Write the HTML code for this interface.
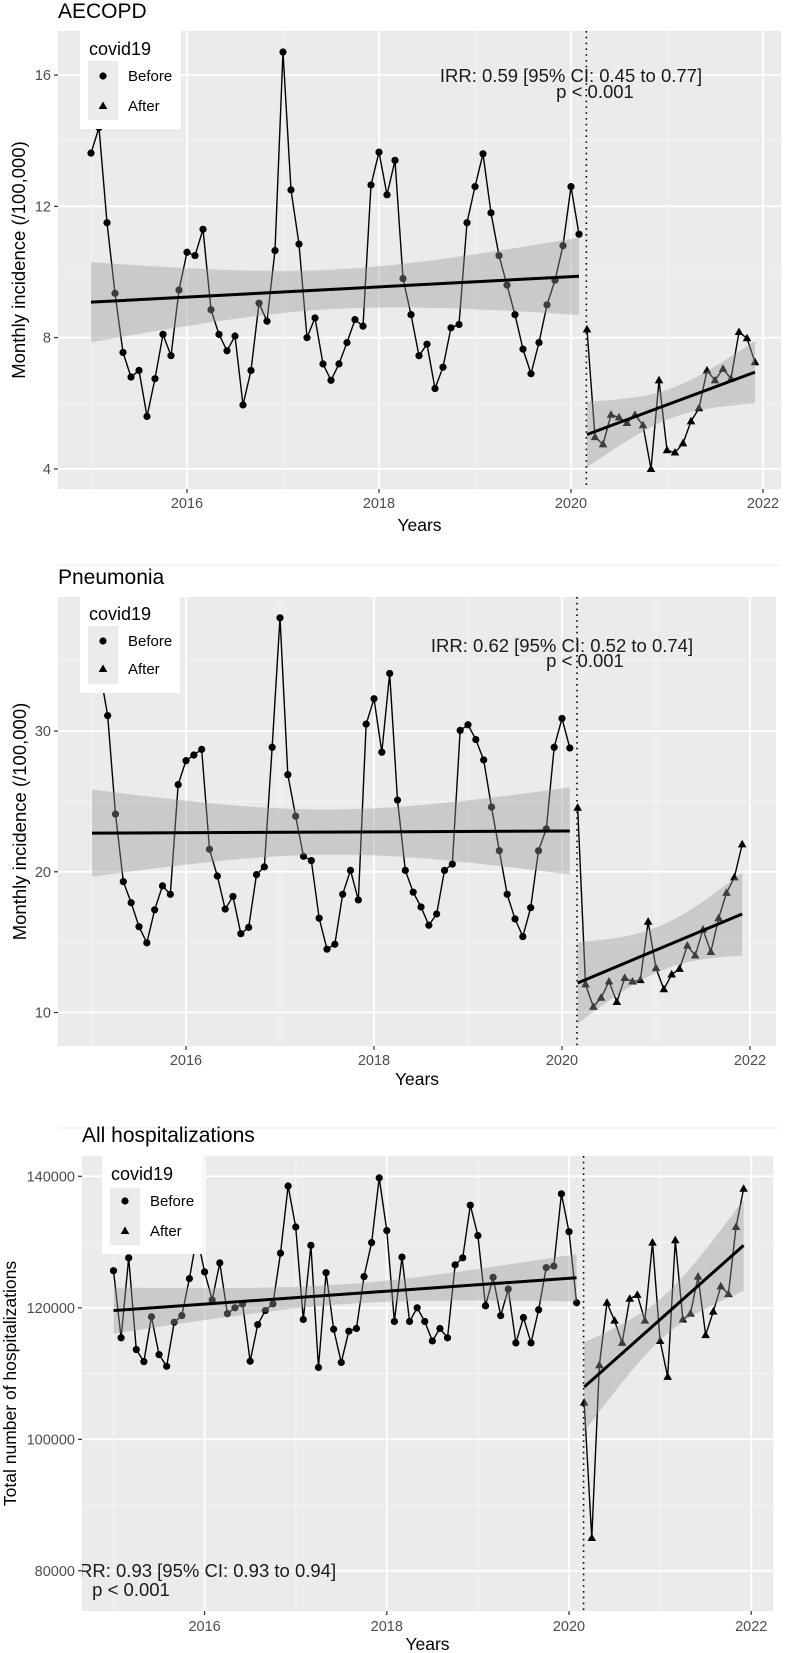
<!DOCTYPE html>
<html><head><meta charset="utf-8">
<style>
html,body{margin:0;padding:0;background:#fff;}
svg{display:block;font-family:"Liberation Sans",Arial,sans-serif;}
</style></head>
<body>
<svg id="chart" width="790" height="1653" viewBox="0 0 790 1653" xmlns="http://www.w3.org/2000/svg"></svg>
<script>
// ---- Data (monthly, Jan 2015 .. Feb 2020 before; Mar 2020 .. Dec 2021 after) ----
const aecopdBefore = [13.62,14.4,11.5,9.35,7.55,6.8,7.0,5.6,6.75,8.1,7.45,9.45,
 10.6,10.5,11.3,8.85,8.1,7.6,8.05,5.95,7.0,9.05,8.5,10.65,
 16.7,12.5,10.85,8.0,8.6,7.2,6.7,7.2,7.85,8.55,8.35,12.65,
 13.65,12.35,13.4,9.8,8.7,7.45,7.8,6.45,7.1,8.3,8.4,11.5,
 12.6,13.6,11.8,10.5,9.6,8.7,7.65,6.9,7.85,9.0,9.75,10.8,
 12.6,11.15];
const aecopdAfter = [8.25,4.97,4.75,5.65,5.57,5.4,5.65,5.33,4.0,6.7,
 4.57,4.5,4.78,5.45,5.85,7.0,6.7,7.05,6.75,8.17,7.98,7.25];
const aecopdTrendBefore = [9.08, 9.87];
const aecopdTrendAfter = [5.05, 6.95];
const aecopdCiBefore = [1.22, 0.6, 1.18];
const aecopdCiAfter = [1.0, 0.45, 0.95];

const pneuBefore = [36,34.3,31.1,24.1,19.3,17.8,16.1,14.95,17.3,19.0,18.4,26.2,
 27.9,28.3,28.7,21.6,19.7,17.35,18.25,15.6,16.05,19.8,20.35,28.85,
 38.05,26.9,23.95,21.1,20.8,16.7,14.5,14.85,18.4,20.1,18.0,30.5,
 32.3,28.5,34.1,25.1,20.1,18.55,17.5,16.2,17.0,20.1,20.55,30.05,
 30.45,29.4,27.95,24.6,21.5,18.4,16.65,15.4,17.45,21.5,23.05,28.85,
 30.9,28.8];
const pneuAfter = [24.55,12.0,10.4,11.05,12.2,10.75,12.45,12.2,12.3,16.45,
 13.15,11.65,12.7,13.1,14.75,14.05,15.9,14.3,16.7,18.5,19.6,21.95];
const pneuTrendBefore = [22.75, 22.9];
const pneuTrendAfter = [12.1, 17.0];
const pneuCiBefore = [3.1, 1.6, 3.1];
const pneuCiAfter = [2.9, 1.6, 2.95];

const hospBefore = [125640,115430,127600,113650,111810,118640,112880,111100,117800,118810,124450,131000,
 125460,121190,126830,119110,120000,120590,111870,117450,119580,120590,128310,138520,
 132290,118220,129500,110920,125340,116740,111690,116440,116850,124750,129910,139760,
 131750,117920,127720,117920,120000,117920,114960,116850,115430,126530,127600,135610,
 130980,120300,124630,118810,122850,114660,118520,114660,119700,126110,126350,137330,
 131570,120770];
const hospAfter = [105580,84980,111270,120770,118040,114660,121370,121960,118040,129910,
 114960,109500,130270,118220,119110,124750,115850,119410,123260,122080,132290,138100];
const hospTrendBefore = [119580, 124570];
const hospTrendAfter = [107950, 129500];
const hospCiBefore = [3500, 1500, 3600];
const hospCiAfter = [6800, 3100, 6950];

const xTickYears = [2016, 2018, 2020, 2022];
const xMinorYears = [2015, 2017, 2019, 2021];
const aecopdYTicks = [4, 8, 12, 16];
const aecopdYMinor = [6, 10, 14];
const pneuYTicks = [10, 20, 30];
const pneuYMinor = [15, 25, 35];
const hospYTicks = [80000, 100000, 120000, 140000];
const hospYMinor = [90000, 110000, 130000];
const interruptionTime = 2020.16;

// ---- Drawing ----
const NS = "http://www.w3.org/2000/svg";
const svg = document.getElementById('chart');
function mk(tag, attrs, parent) {
  const e = document.createElementNS(NS, tag);
  for (const k in attrs) e.setAttribute(k, attrs[k]);
  (parent || svg).appendChild(e);
  return e;
}
function txt(str, attrs, parent) { const t = mk('text', attrs, parent); t.textContent = str; return t; }

function drawPanel(cfg) {
  const g = mk('g', {});
  
  
  const X = t => cfg.x0 + (t - 2015) * cfg.ppy;
  const Y = v => cfg.yRef + (cfg.vRef - v) * cfg.ppu;
  const tOf = i => 2015 + i / 12;

  // title
  const title = txt(cfg.title, {x: cfg.left, y: cfg.titleY, 'font-size': cfg.titleSize, fill: '#000'}, g);
  
  

  // background
  const bg = mk('rect', {x: cfg.left, y: cfg.top, width: cfg.right - cfg.left, height: cfg.bottom - cfg.top, fill: '#EBEBEB'}, g);
  
  

  // minor grid
  cfg.yMinor.forEach(v => { const y = Y(v); if (y > cfg.top && y < cfg.bottom) mk('line', {x1: cfg.left, x2: cfg.right, y1: y, y2: y, stroke: '#F5F5F5', 'stroke-width': 1}, g); });
  xMinorYears.forEach(t => mk('line', {x1: X(t), x2: X(t), y1: cfg.top, y2: cfg.bottom, stroke: '#F5F5F5', 'stroke-width': 1}, g));
  // major grid
  cfg.yTicks.forEach(v => mk('line', {x1: cfg.left, x2: cfg.right, y1: Y(v), y2: Y(v), stroke: '#fff', 'stroke-width': 1.8}, g));
  xTickYears.forEach(t => mk('line', {x1: X(t), x2: X(t), y1: cfg.top, y2: cfg.bottom, stroke: '#fff', 'stroke-width': 1.8}, g));

  // y ticks & labels
  cfg.yTicks.forEach(v => {
    mk('line', {x1: cfg.left - 4, x2: cfg.left, y1: Y(v), y2: Y(v), stroke: '#333', 'stroke-width': 1.2}, g);
    const l = txt(String(v), {x: cfg.left - 7, y: Y(v) + 5, 'text-anchor': 'end', 'font-size': 14.5, fill: '#4D4D4D'}, g);
    
    
  });
  // x ticks & labels
  xTickYears.forEach(t => {
    mk('line', {x1: X(t), x2: X(t), y1: cfg.bottom, y2: cfg.bottom + 4, stroke: '#333', 'stroke-width': 1.2}, g);
    const l = txt(String(t), {x: X(t), y: cfg.xLabelY, 'text-anchor': 'middle', 'font-size': 14.5, fill: '#4D4D4D'}, g);
    
    
  });
  const xt = txt('Years', {x: (cfg.left + cfg.right) / 2, y: cfg.xTitleY, 'text-anchor': 'middle', 'font-size': 17.5, fill: '#000'}, g);
  
  
  const cy = (cfg.top + cfg.bottom) / 2;
  const yt = txt(cfg.yTitle, {x: cfg.yTitleX, y: cy, 'text-anchor': 'middle', 'dominant-baseline': 'central', 'font-size': cfg.yTitleSize, fill: '#000', transform: 'rotate(-90 ' + cfg.yTitleX + ' ' + cy + ')'}, g);
  
  

  // series
  function series(vals, offset, shape, nm) {
    const pts = vals.map((v, i) => [X(tOf(i + offset)), Y(v)]);
    const pl = mk('polyline', {points: pts.map(p => p.join(',')).join(' '), fill: 'none', stroke: '#000', 'stroke-width': 1.4}, g);
    
    
    pts.forEach(p => {
      let m;
      if (shape === 'circle') m = mk('circle', {cx: p[0], cy: p[1], r: 3.6, fill: '#000'}, g);
      else m = mk('polygon', {points: [[p[0], p[1] - 4.6], [p[0] - 4.3, p[1] + 3], [p[0] + 4.3, p[1] + 3]].map(q => q.join(',')).join(' '), fill: '#000'}, g);
      
      
    });
  }
  series(cfg.before, 0, 'circle', 'before');
  series(cfg.after, cfg.before.length, 'triangle', 'after');

  // fit bands + lines
  function fit(tr, ci, i0, i1, nm) {
    const t0 = tOf(i0), t1 = tOf(i1), tc = (t0 + t1) / 2, hs = (t1 - t0) / 2;
    const up = [], lo = [];
    for (let k = 0; k <= 40; k++) {
      const t = t0 + (t1 - t0) * k / 40;
      const u = (t - tc) / hs;
      const e = u < 0 ? ci[0] : ci[2];
      const hw = Math.sqrt(ci[1] * ci[1] + (e * e - ci[1] * ci[1]) * u * u);
      const c = tr[0] + (tr[1] - tr[0]) * k / 40;
      up.push([X(t), Y(c + hw)]);
      lo.push([X(t), Y(c - hw)]);
    }
    const poly = up.concat(lo.reverse());
    const band = mk('polygon', {points: poly.map(p => p.join(',')).join(' '), fill: '#999999', 'fill-opacity': 0.4}, g);
    
    
    const ln = mk('line', {x1: X(t0), y1: Y(tr[0]), x2: X(t1), y2: Y(tr[1]), stroke: '#000', 'stroke-width': 3}, g);
    
    
  }
  const nb = cfg.before.length, na = cfg.after.length;
  fit(cfg.trendBefore, cfg.ciBefore, 0, nb - 1, 'before');
  fit(cfg.trendAfter, cfg.ciAfter, nb, nb + na - 1, 'after');

  // interruption line
  const dl = mk('line', {x1: X(interruptionTime), x2: X(interruptionTime), y1: cfg.top, y2: cfg.bottom, stroke: '#000', 'stroke-width': 1.6, 'stroke-dasharray': '1.6,4.2'}, g);
  
  

  // annotation (clipped to panel)
  const cid = 'clip-' + cfg.name;
  const cp = mk('clipPath', {id: cid}, g);
  mk('rect', {x: cfg.left, y: cfg.top, width: cfg.right - cfg.left, height: cfg.bottom - cfg.top}, cp);
  const ag = mk('g', {'clip-path': 'url(#' + cid + ')'}, g);
  const a1 = txt(cfg.irr, {x: cfg.irrX, y: cfg.irrY, 'text-anchor': 'middle', 'font-size': 18.5, fill: '#1a1a1a'}, ag);
  
  
  const a2 = txt('p < 0.001', {x: cfg.pX, y: cfg.pY, 'text-anchor': 'middle', 'font-size': 18.5, fill: '#1a1a1a'}, ag);
  
  

  // legend
  const L = cfg.legend;
  const lg = mk('g', {}, g);
  
  
  mk('rect', {x: L.x, y: L.y, width: L.w, height: L.h, fill: '#fff'}, lg);
  txt('covid19', {x: L.x + 9, y: L.titleY, 'font-size': 18, fill: '#000'}, lg);
  mk('rect', {x: L.x + 8, y: L.keyTop, width: 30, height: L.keyBottom - L.keyTop, fill: '#EBEBEB'}, lg);
  const kx = L.x + 23;
  const c = mk('circle', {cx: kx, cy: L.sym1, r: 3.6, fill: '#000'}, lg);
  
  
  const tr = mk('polygon', {points: [[kx, L.sym2 - 4.6], [kx - 4.3, L.sym2 + 3], [kx + 4.3, L.sym2 + 3]].map(q => q.join(',')).join(' '), fill: '#000'}, lg);
  
  
  const lb1 = txt('Before', {x: L.x + 48, y: L.sym1 + 5, 'font-size': 15, fill: '#000'}, lg);
  
  
  const lb2 = txt('After', {x: L.x + 48, y: L.sym2 + 5, 'font-size': 15, fill: '#000'}, lg);
  
  
}

// faint separators
mk('line', {x1: 58, x2: 780, y1: 565, y2: 565, stroke: '#F2F2F2', 'stroke-width': 1.5});
mk('line', {x1: 58, x2: 778, y1: 1128, y2: 1128, stroke: '#F2F2F2', 'stroke-width': 1.5});

drawPanel({name: 'aecopd', title: 'AECOPD', titleY: 18, titleSize: 21,
  left: 58, right: 781, top: 31, bottom: 489,
  x0: 91, ppy: 96, vRef: 16, yRef: 75, ppu: 32.83,
  yTicks: aecopdYTicks, yMinor: aecopdYMinor,
  xLabelY: 508, xTitleY: 531, yTitleX: 18.5, yTitleSize: 18.5,
  yTitle: 'Monthly incidence (/100,000)',
  before: aecopdBefore, after: aecopdAfter,
  trendBefore: aecopdTrendBefore, trendAfter: aecopdTrendAfter,
  ciBefore: aecopdCiBefore, ciAfter: aecopdCiAfter,
  irr: 'IRR: 0.59 [95% CI: 0.45 to 0.77]', irrX: 571, irrY: 82, pX: 595, pY: 98,
  legend: {x: 80, y: 31, w: 101, h: 98, titleY: 55, keyTop: 61, keyBottom: 120, sym1: 76, sym2: 106}
});

drawPanel({name: 'pneumonia', title: 'Pneumonia', titleY: 584, titleSize: 21,
  left: 58, right: 776, top: 597, bottom: 1046,
  x0: 92, ppy: 94, vRef: 30, yRef: 731.1, ppu: 14.07,
  yTicks: pneuYTicks, yMinor: pneuYMinor,
  xLabelY: 1065, xTitleY: 1085, yTitleX: 19.5, yTitleSize: 18.5,
  yTitle: 'Monthly incidence (/100,000)',
  before: pneuBefore, after: pneuAfter,
  trendBefore: pneuTrendBefore, trendAfter: pneuTrendAfter,
  ciBefore: pneuCiBefore, ciAfter: pneuCiAfter,
  irr: 'IRR: 0.62 [95% CI: 0.52 to 0.74]', irrX: 562, irrY: 652, pX: 585, pY: 667,
  legend: {x: 80, y: 597, w: 100, h: 96, titleY: 620, keyTop: 626, keyBottom: 684, sym1: 641, sym2: 669}
});

drawPanel({name: 'hospitalizations', title: 'All hospitalizations', titleY: 1142, titleSize: 21,
  left: 82, right: 773, top: 1156, bottom: 1611,
  x0: 113.5, ppy: 91.1, vRef: 120000, yRef: 1307.8, ppu: 0.006575,
  yTicks: hospYTicks, yMinor: hospYMinor,
  xLabelY: 1631, xTitleY: 1650, yTitleX: 10, yTitleSize: 17.5,
  yTitle: 'Total number of hospitalizations',
  before: hospBefore, after: hospAfter,
  trendBefore: hospTrendBefore, trendAfter: hospTrendAfter,
  ciBefore: hospCiBefore, ciAfter: hospCiAfter,
  irr: 'IRR: 0.93 [95% CI: 0.93 to 0.94]', irrX: 205, irrY: 1577, pX: 131, pY: 1596,
  legend: {x: 102, y: 1156, w: 101, h: 98, titleY: 1180, keyTop: 1188, keyBottom: 1245, sym1: 1201, sym2: 1231}
});
</script>
</body></html>
